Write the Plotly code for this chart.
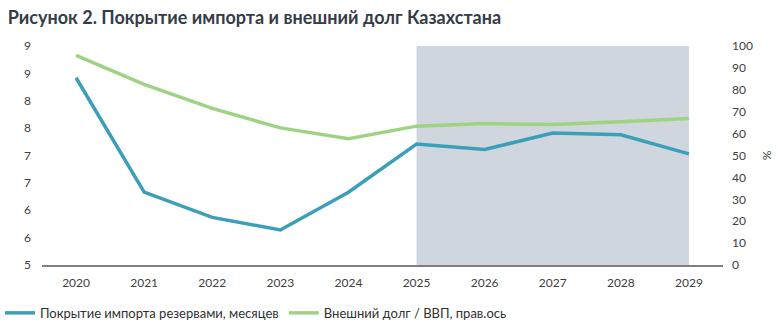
import plotly.graph_objects as go

years = ["2020", "2021", "2022", "2023", "2024", "2025", "2026", "2027", "2028", "2029"]
import_cover = [8.42, 6.33, 5.87, 5.64, 6.33, 7.21, 7.11, 7.41, 7.38, 7.03]
ext_debt = [95.7, 82.5, 71.5, 62.6, 57.7, 63.4, 64.6, 64.1, 65.4, 66.9]
left_tickvals = [5, 5.5, 6, 6.5, 7, 7.5, 8, 8.5, 9]
left_ticktext = ["5", "6", "6", "7", "7", "8", "8", "9", "9"]
right_tickvals = [0, 10, 20, 30, 40, 50, 60, 70, 80, 90, 100]
name_blue = "Покрытие импорта резервами, месяцев"
name_green = "Внешний долг / ВВП, прав.ось"
title = "Рисунок 2. Покрытие импорта и внешний долг Казахстана"

FONT = "Lato"
fig = go.Figure()
fig.add_trace(go.Scatter(x=years, y=import_cover, mode="lines", name=name_blue,
                         line=dict(color="#3c9fb9", width=3.5)))
fig.add_trace(go.Scatter(x=years, y=ext_debt, mode="lines", name=name_green, yaxis="y2",
                         line=dict(color="#9fd384", width=3.5)))

fig.add_shape(type="rect", xref="x", yref="paper", x0=5, x1=9, y0=0, y1=1,
              fillcolor="#d0d6de", line=dict(width=0), layer="below")

fig.update_layout(
    width=781, height=328,
    margin=dict(l=42, r=58, t=46, b=63, autoexpand=False),
    paper_bgcolor="white", plot_bgcolor="white",
    font=dict(family=FONT, size=12, color="#404040"),
    title=dict(text="<b>" + title + "</b>", x=0.01, xanchor="left", y=0.945, yanchor="middle",
               font=dict(family=FONT, size=18, color="#353c48")),
    xaxis=dict(type="category", range=[-0.5, 9.5], showgrid=False, showline=True,
               linecolor="#7f7f7f", linewidth=2, ticks="", tickfont=dict(size=12),
               ticklabelstandoff=6),
    yaxis=dict(range=[5, 9], tickvals=left_tickvals, ticktext=left_ticktext,
               showgrid=False, zeroline=False, showline=False, ticks="", ticklabelstandoff=10),
    yaxis2=dict(range=[0, 100], tickvals=right_tickvals, overlaying="y", side="right",
                showgrid=False, zeroline=False, showline=False, ticks="", ticklabelstandoff=8,
                title=dict(text="%", standoff=10, font=dict(size=12))),
    legend=dict(orientation="h", xref="container", yref="container",
                x=0.0, xanchor="left", y=0.046, yanchor="middle",
                font=dict(size=13, color="#303030"), itemwidth=30, tracegroupgap=0),
    showlegend=True,
)

fig.write_html("out.html")
